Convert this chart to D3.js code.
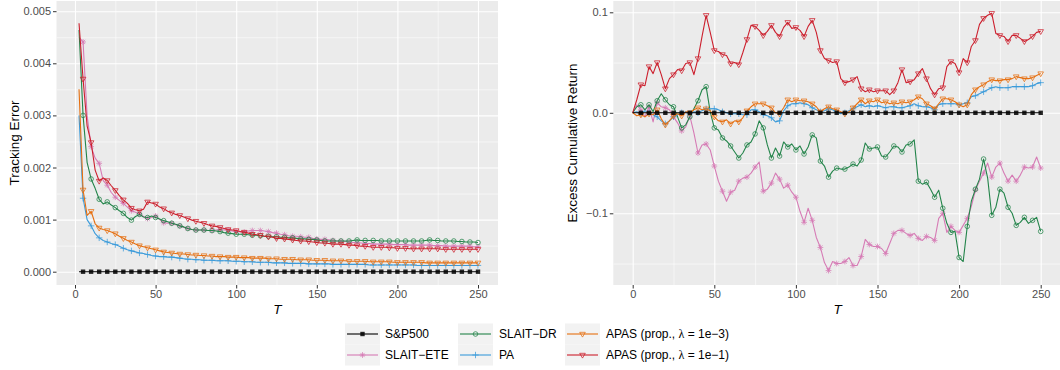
<!DOCTYPE html>
<html>
<head>
<meta charset="utf-8">
<script src="https://cdn.jsdelivr.net/npm/d3@7"></script>
<style>
  body { margin: 0; background: #fff; }
  svg { font-family: "Liberation Sans", Arial, sans-serif; }
</style>
</head>
<body>
<svg id="chart" width="1060" height="370"></svg>
<script>
// ---- data ----
const seriesNames = ["S&P500", "SLAIT−ETE", "SLAIT−DR", "PA", "APAS (prop., λ = 1e−3)", "APAS (prop., λ = 1e−1)"];

// time grids (T)
const tLeft = d3.range(2.5, 250.01, 2.5);   // 100 steps
const tRight = d3.range(0, 250.01, 2.5);    // 101 steps

const xTicks = [0, 50, 100, 150, 200, 250];
const xMinor = [25, 75, 125, 175, 225];
const teTicks = [0, 0.001, 0.002, 0.003, 0.004, 0.005];
const teMinor = [0.0005, 0.0015, 0.0025, 0.0035, 0.0045];
const ecrTicks = [-0.1, 0, 0.1];
const ecrMinor = [-0.15, -0.05, 0.05];

// tracking error (left panel)
const teSP500 = [
  0,0,0,0,0,0,0,0,0,0,0,0,0,0,0,0,0,0,0,0,
  0,0,0,0,0,0,0,0,0,0,0,0,0,0,0,0,0,0,0,0,
  0,0,0,0,0,0,0,0,0,0,0,0,0,0,0,0,0,0,0,0,
  0,0,0,0,0,0,0,0,0,0,0,0,0,0,0,0,0,0,0,0,
  0,0,0,0,0,0,0,0,0,0,0,0,0,0,0,0,0,0,0,0];
const teETE = [
  0.00450,0.00441,0.00300,0.00240,0.00218,0.00208,0.00175,0.00166,0.00152,0.00143,
  0.00137,0.00131,0.00124,0.00117,0.00114,0.00111,0.00106,0.00102,0.00104,0.00107,
  0.00100,0.00094,0.00093,0.00093,0.00090,0.00088,0.00085,0.00083,0.00081,0.00080,
  0.00080,0.00080,0.00079,0.00079,0.00080,0.00081,0.00080,0.00080,0.00078,0.00077,
  0.00077,0.00076,0.00078,0.00079,0.00079,0.00079,0.00078,0.00077,0.00075,0.00074,
  0.00072,0.00071,0.00069,0.00068,0.00068,0.00067,0.00066,0.00066,0.00064,0.00063,
  0.00062,0.00062,0.00061,0.00060,0.00059,0.00059,0.00058,0.00057,0.00056,0.00056,
  0.00055,0.00054,0.00054,0.00053,0.00053,0.00053,0.00053,0.00053,0.00052,0.00052,
  0.00052,0.00052,0.00051,0.00051,0.00051,0.00051,0.00051,0.00051,0.00050,0.00050,
  0.00050,0.00049,0.00049,0.00049,0.00049,0.00049,0.00049,0.00049,0.00048,0.00048];
const teDR = [
  0.00464,0.00300,0.00210,0.00178,0.00160,0.00139,0.00130,0.00134,0.00128,0.00123,
  0.00117,0.00112,0.00104,0.00099,0.00106,0.00110,0.00105,0.00104,0.00107,0.00104,
  0.00101,0.00098,0.00096,0.00093,0.00091,0.00088,0.00086,0.00083,0.00081,0.00080,
  0.00080,0.00080,0.00079,0.00079,0.00078,0.00077,0.00075,0.00074,0.00073,0.00072,
  0.00072,0.00072,0.00071,0.00070,0.00070,0.00069,0.00068,0.00068,0.00067,0.00067,
  0.00066,0.00066,0.00065,0.00065,0.00064,0.00063,0.00063,0.00062,0.00062,0.00061,
  0.00060,0.00059,0.00059,0.00059,0.00059,0.00059,0.00059,0.00059,0.00060,0.00061,
  0.00060,0.00060,0.00060,0.00060,0.00060,0.00059,0.00059,0.00059,0.00059,0.00059,
  0.00059,0.00059,0.00059,0.00059,0.00059,0.00059,0.00060,0.00061,0.00060,0.00060,
  0.00059,0.00059,0.00059,0.00059,0.00058,0.00058,0.00057,0.00057,0.00057,0.00056];
const tePA = [
  0.00300,0.00141,0.00100,0.00088,0.00073,0.00065,0.00060,0.00057,0.00054,0.00052,
  0.00049,0.00045,0.00042,0.00040,0.00038,0.00036,0.00035,0.00033,0.00031,0.00030,
  0.00029,0.00029,0.00028,0.00028,0.00027,0.00026,0.00025,0.00024,0.00024,0.00023,
  0.00023,0.00022,0.00022,0.00022,0.00021,0.00021,0.00021,0.00021,0.00020,0.00020,
  0.00020,0.00019,0.00019,0.00019,0.00018,0.00018,0.00018,0.00018,0.00017,0.00017,
  0.00017,0.00017,0.00016,0.00016,0.00016,0.00016,0.00016,0.00015,0.00015,0.00015,
  0.00015,0.00015,0.00015,0.00014,0.00014,0.00014,0.00014,0.00014,0.00014,0.00014,
  0.00014,0.00014,0.00013,0.00013,0.00013,0.00013,0.00013,0.00013,0.00013,0.00013,
  0.00013,0.00013,0.00013,0.00013,0.00012,0.00012,0.00012,0.00012,0.00012,0.00012,
  0.00012,0.00012,0.00012,0.00012,0.00012,0.00012,0.00012,0.00012,0.00012,0.00012];
const teAPAS3 = [
  0.00350,0.00157,0.00108,0.00116,0.00092,0.00084,0.00081,0.00079,0.00076,0.00073,
  0.00068,0.00064,0.00060,0.00057,0.00053,0.00050,0.00048,0.00046,0.00044,0.00042,
  0.00040,0.00038,0.00037,0.00036,0.00035,0.00034,0.00034,0.00033,0.00032,0.00032,
  0.00031,0.00031,0.00030,0.00030,0.00029,0.00029,0.00029,0.00028,0.00028,0.00028,
  0.00027,0.00027,0.00027,0.00026,0.00026,0.00026,0.00026,0.00025,0.00025,0.00025,
  0.00024,0.00024,0.00024,0.00024,0.00023,0.00023,0.00023,0.00023,0.00022,0.00022,
  0.00022,0.00022,0.00021,0.00021,0.00021,0.00021,0.00021,0.00020,0.00020,0.00020,
  0.00020,0.00020,0.00019,0.00019,0.00019,0.00019,0.00019,0.00019,0.00018,0.00018,
  0.00018,0.00018,0.00018,0.00018,0.00018,0.00018,0.00017,0.00017,0.00017,0.00017,
  0.00017,0.00017,0.00017,0.00017,0.00017,0.00017,0.00017,0.00017,0.00017,0.00017];
const teAPAS1 = [
  0.00477,0.00370,0.00280,0.00248,0.00195,0.00174,0.00180,0.00175,0.00165,0.00156,
  0.00146,0.00138,0.00131,0.00122,0.00119,0.00117,0.00120,0.00134,0.00132,0.00130,
  0.00124,0.00121,0.00116,0.00113,0.00110,0.00108,0.00105,0.00102,0.00099,0.00097,
  0.00095,0.00093,0.00090,0.00088,0.00087,0.00085,0.00083,0.00081,0.00080,0.00079,
  0.00077,0.00076,0.00074,0.00072,0.00071,0.00070,0.00068,0.00067,0.00066,0.00064,
  0.00064,0.00063,0.00062,0.00061,0.00060,0.00059,0.00059,0.00058,0.00057,0.00056,
  0.00055,0.00055,0.00054,0.00053,0.00053,0.00053,0.00052,0.00051,0.00051,0.00050,
  0.00049,0.00049,0.00048,0.00047,0.00047,0.00047,0.00047,0.00046,0.00046,0.00045,
  0.00045,0.00045,0.00044,0.00044,0.00044,0.00044,0.00044,0.00044,0.00044,0.00044,
  0.00043,0.00043,0.00043,0.00043,0.00043,0.00043,0.00043,0.00043,0.00043,0.00043];

// excess cumulative return (right panel)
const ecrSP500 = [0,
  0,0,0,0,0,0,0,0,0,0,0,0,0,0,0,0,0,0,0,0,
  0,0,0,0,0,0,0,0,0,0,0,0,0,0,0,0,0,0,0,0,
  0,0,0,0,0,0,0,0,0,0,0,0,0,0,0,0,0,0,0,0,
  0,0,0,0,0,0,0,0,0,0,0,0,0,0,0,0,0,0,0,0,
  0,0,0,0,0,0,0,0,0,0,0,0,0,0,0,0,0,0,0,0];
const ecrETE = [0.000,
  0.008,0.003,-0.004,0.006,-0.009,0.010,0.006,0.005,0.003,-0.004,
  -0.010,-0.018,-0.014,-0.003,-0.020,-0.040,-0.032,-0.031,-0.037,-0.053,
  -0.068,-0.078,-0.088,-0.079,-0.077,-0.068,-0.065,-0.064,-0.060,-0.054,
  -0.049,-0.078,-0.076,-0.070,-0.060,-0.066,-0.075,-0.072,-0.079,-0.084,
  -0.098,-0.109,-0.095,-0.107,-0.124,-0.134,-0.149,-0.157,-0.148,-0.150,
  -0.150,-0.148,-0.144,-0.152,-0.152,-0.143,-0.126,-0.131,-0.133,-0.133,
  -0.135,-0.140,-0.130,-0.120,-0.117,-0.117,-0.120,-0.122,-0.120,-0.125,
  -0.127,-0.123,-0.124,-0.127,-0.105,-0.100,-0.119,-0.113,-0.117,-0.119,
  -0.112,-0.105,-0.093,-0.077,-0.068,-0.060,-0.050,-0.064,-0.054,-0.050,
  -0.060,-0.068,-0.062,-0.068,-0.062,-0.054,-0.055,-0.054,-0.044,-0.055];
const ecrDR = [0.000,
  0.006,0.008,0.003,0.008,0.001,0.012,0.019,0.013,0.008,0.006,
  -0.004,-0.015,-0.012,-0.004,0.004,0.012,0.023,0.026,0.001,-0.015,
  -0.017,-0.025,-0.028,-0.033,-0.039,-0.045,-0.040,-0.032,-0.029,-0.021,
  -0.008,-0.015,-0.032,-0.045,-0.035,-0.043,-0.029,-0.034,-0.031,-0.037,
  -0.033,-0.041,-0.034,-0.022,-0.025,-0.048,-0.053,-0.064,-0.058,-0.055,
  -0.056,-0.056,-0.054,-0.051,-0.053,-0.047,-0.030,-0.036,-0.035,-0.034,
  -0.043,-0.044,-0.039,-0.033,-0.034,-0.039,-0.032,-0.031,-0.027,-0.068,
  -0.071,-0.069,-0.076,-0.084,-0.077,-0.095,-0.110,-0.119,-0.118,-0.144,
  -0.148,-0.113,-0.088,-0.076,-0.066,-0.046,-0.065,-0.102,-0.094,-0.076,
  -0.080,-0.094,-0.100,-0.112,-0.109,-0.104,-0.110,-0.107,-0.104,-0.118];
const ecrPA = [0.000,
  0.001,-0.001,0.002,0.000,-0.002,-0.004,-0.008,-0.011,-0.008,-0.004,
  -0.002,0.000,0.001,-0.001,0.001,0.000,0.002,0.004,0.004,0.004,
  0.003,0.001,0.000,-0.001,-0.001,-0.001,-0.002,-0.002,0.003,0.003,
  0.001,-0.002,-0.003,-0.005,-0.009,-0.008,0.002,0.007,0.009,0.009,
  0.010,0.009,0.008,0.005,0.003,0.001,0.002,0.004,0.003,0.001,
  -0.001,0.000,0.002,0.004,0.006,0.008,0.006,0.007,0.006,0.007,
  0.006,0.005,0.006,0.006,0.005,0.005,0.006,0.007,0.009,0.007,
  0.006,0.006,0.005,0.003,0.008,0.009,0.009,0.009,0.009,0.008,
  0.009,0.010,0.016,0.017,0.019,0.021,0.023,0.025,0.026,0.025,
  0.025,0.025,0.026,0.026,0.026,0.026,0.026,0.027,0.029,0.030];
const ecrAPAS3 = [0.000,
  -0.003,-0.002,-0.004,-0.001,-0.002,0.003,-0.006,-0.012,-0.008,-0.003,
  -0.001,-0.003,0.001,0.000,0.003,0.005,0.003,0.004,0.002,-0.004,
  -0.008,-0.009,-0.007,-0.011,-0.008,-0.009,-0.005,0.002,0.006,0.009,
  0.009,0.009,0.007,0.005,0.000,-0.001,0.005,0.013,0.011,0.013,
  0.012,0.012,0.011,0.009,0.006,0.001,0.004,0.006,0.004,0.003,
  0.001,-0.001,0.001,0.005,0.009,0.013,0.009,0.012,0.011,0.013,
  0.010,0.011,0.009,0.010,0.009,0.011,0.010,0.011,0.013,0.016,
  0.014,0.009,0.007,0.004,0.009,0.014,0.014,0.013,0.011,0.008,
  0.006,0.008,0.018,0.023,0.026,0.028,0.031,0.033,0.032,0.032,
  0.033,0.033,0.034,0.036,0.035,0.034,0.034,0.035,0.037,0.039];
const ecrAPAS1 = [0.000,
  0.013,0.028,0.027,0.046,0.039,0.050,0.038,0.024,0.034,0.038,
  0.043,0.042,0.049,0.050,0.038,0.054,0.076,0.097,0.080,0.062,
  0.061,0.058,0.057,0.049,0.050,0.048,0.060,0.073,0.087,0.086,
  0.082,0.077,0.081,0.087,0.080,0.076,0.085,0.090,0.084,0.085,
  0.082,0.076,0.086,0.092,0.080,0.062,0.054,0.052,0.050,0.051,
  0.034,0.030,0.031,0.033,0.036,0.024,0.021,0.023,0.021,0.022,
  0.022,0.022,0.018,0.022,0.030,0.043,0.030,0.031,0.033,0.039,
  0.044,0.034,0.024,0.018,0.024,0.025,0.046,0.051,0.049,0.040,
  0.054,0.050,0.066,0.072,0.088,0.094,0.097,0.099,0.079,0.077,
  0.076,0.071,0.077,0.077,0.074,0.071,0.073,0.076,0.080,0.081];

// ---- styling ----
const colors = ["#000000", "#D67BB5", "#23844A", "#3B9BDA", "#E66F10", "#CC1F2D"];
const shapes = ["square", "asterisk", "circle", "plus", "triangle", "triangle"];
const drawOrder = [1, 2, 3, 4, 5, 0];

const shapePaths = {
  asterisk: "M-2.9,0H2.9M0,-2.9V2.9M-2.1,-2.1L2.1,2.1M-2.1,2.1L2.1,-2.1",
  plus: "M-3.2,0H3.2M0,-3.2V3.2",
  triangle: "M-2.8,-1.7L2.8,-1.7L0,3.1Z"
};

function addMarker(sel, shape, color) {
  if (shape === "square") {
    sel.append("rect").attr("x", -2.2).attr("y", -2.2).attr("width", 4.4).attr("height", 4.4).attr("fill", color);
  } else if (shape === "circle") {
    sel.append("circle").attr("r", 2.3).attr("fill", "none").attr("stroke", color).attr("stroke-width", 0.9);
  } else {
    sel.append("path").attr("d", shapePaths[shape]).attr("fill", "none")
      .attr("stroke", color).attr("stroke-width", 0.9);
  }
}

const svg = d3.select("#chart");

const panels = [
  {
    id: "te", left: 56.5, right: 498, top: 1, bottom: 285,
    x: d3.scaleLinear().domain([0, 250]).range([75, 478]),
    y: d3.scaleLinear().domain([0, 0.005]).range([271.7, 11.2]),
    t: tLeft, yTicks: teTicks, yMinor: teMinor, fmt: d3.format(".3f"),
    title: "Tracking Error", titleX: 19,
    values: [teSP500, teETE, teDR, tePA, teAPAS3, teAPAS1]
  },
  {
    id: "ecr", left: 613.3, right: 1062, top: 1, bottom: 285,
    x: d3.scaleLinear().domain([0, 250]).range([632.7, 1040.7]),
    y: d3.scaleLinear().domain([-0.1, 0.1]).range([213.3, 12.3]),
    t: tRight, yTicks: ecrTicks, yMinor: ecrMinor, fmt: d3.format(".1f"),
    title: "Excess Cumulative Return", titleX: 577,
    values: [ecrSP500, ecrETE, ecrDR, ecrPA, ecrAPAS3, ecrAPAS1]
  }
];

panels.forEach(p => {
  const w = p.right - p.left, h = p.bottom - p.top;

  svg.append("clipPath").attr("id", "clip-" + p.id)
    .append("rect").attr("x", p.left).attr("y", p.top).attr("width", w).attr("height", h);

  svg.append("rect").attr("x", p.left).attr("y", p.top).attr("width", w).attr("height", h)
    .attr("fill", "#EBEBEB");

  // grid lines (minor then major)
  const grid = svg.append("g").attr("clip-path", `url(#clip-${p.id})`);
  const gridStyle = (g, sw) => {
    g.select(".domain").remove();
    g.selectAll("line").attr("stroke", "#fff").attr("stroke-width", sw);
    g.selectAll("text").remove();
  };
  grid.append("g").attr("transform", `translate(${p.left},0)`)
    .call(d3.axisLeft(p.y).tickValues(p.yMinor).tickSize(-w)).call(g => gridStyle(g, 0.55));
  grid.append("g").attr("transform", `translate(0,${p.bottom})`)
    .call(d3.axisBottom(p.x).tickValues(xMinor).tickSize(-h)).call(g => gridStyle(g, 0.55));
  grid.append("g").attr("transform", `translate(${p.left},0)`)
    .call(d3.axisLeft(p.y).tickValues(p.yTicks).tickSize(-w)).call(g => gridStyle(g, 1.1));
  grid.append("g").attr("transform", `translate(0,${p.bottom})`)
    .call(d3.axisBottom(p.x).tickValues(xTicks).tickSize(-h)).call(g => gridStyle(g, 1.1));

  // axes
  const axStyle = g => {
    g.select(".domain").remove();
    g.selectAll("line").attr("stroke", "#333333").attr("stroke-width", 1);
    g.selectAll("text").attr("fill", "#4D4D4D").attr("font-size", 11)
      .attr("font-family", "'Liberation Sans', Arial, sans-serif");
  };
  svg.append("g").attr("transform", `translate(${p.left},0)`)
    .call(d3.axisLeft(p.y).tickValues(p.yTicks).tickFormat(p.fmt).tickSize(3.5).tickPadding(2))
    .call(axStyle);
  svg.append("g").attr("transform", `translate(0,${p.bottom})`)
    .call(d3.axisBottom(p.x).tickValues(xTicks).tickSize(3.5).tickPadding(2))
    .call(axStyle);

  // axis titles
  svg.append("text").attr("x", (p.left + p.right) / 2).attr("y", 314)
    .attr("text-anchor", "middle").attr("font-size", 13.5).attr("font-style", "italic").text("T");
  svg.append("text").attr("transform", `translate(${p.titleX},${(p.top + p.bottom) / 2}) rotate(-90)`)
    .attr("text-anchor", "middle").attr("font-size", 13.5).text(p.title);

  // series
  const plot = svg.append("g").attr("clip-path", `url(#clip-${p.id})`);
  const line = d3.line().x(d => p.x(d.t)).y(d => p.y(d.v));
  drawOrder.forEach(k => {
    const pts = p.t.map((t, i) => ({ t: t, v: p.values[k][i] }));
    plot.append("path").datum(pts).attr("d", line).attr("fill", "none")
      .attr("stroke", colors[k]).attr("stroke-width", 1.1).attr("stroke-linejoin", "round");
    plot.selectAll(null).data(pts.filter(d => d.t > 0 && d.t % 5 === 0)).join("g")
      .attr("transform", d => `translate(${p.x(d.t)},${p.y(d.v)})`)
      .attr("opacity", 0.85)
      .each(function () { addMarker(d3.select(this), shapes[k], colors[k]); });
  });
});

// ---- legend ----
const legendCols = [345, 458, 565];
const legendTextX = [385, 499, 606];
const legendRows = [334, 355];
seriesNames.forEach((name, k) => {
  const col = Math.floor(k / 2), row = k % 2;
  const kx = legendCols[col], cy = legendRows[row];
  const g = svg.append("g");
  g.append("rect").attr("x", kx).attr("y", cy - 10.5).attr("width", 35).attr("height", 21).attr("fill", "#F2F2F2");
  g.append("line").attr("x1", kx + 2).attr("x2", kx + 33).attr("y1", cy).attr("y2", cy)
    .attr("stroke", colors[k]).attr("stroke-width", 1.1);
  const m = g.append("g").attr("transform", `translate(${kx + 17.5},${cy})`).attr("opacity", 0.85);
  addMarker(m, shapes[k], colors[k]);
  const txt = g.append("text").attr("x", legendTextX[col]).attr("y", cy + 4.2).attr("font-size", 12);
  name.split("λ").forEach((part, i) => {
    if (i > 0) txt.append("tspan").attr("font-family", "'Liberation Serif', serif").text("λ");
    txt.append("tspan").text(part);
  });
});
</script>
</body>
</html>
